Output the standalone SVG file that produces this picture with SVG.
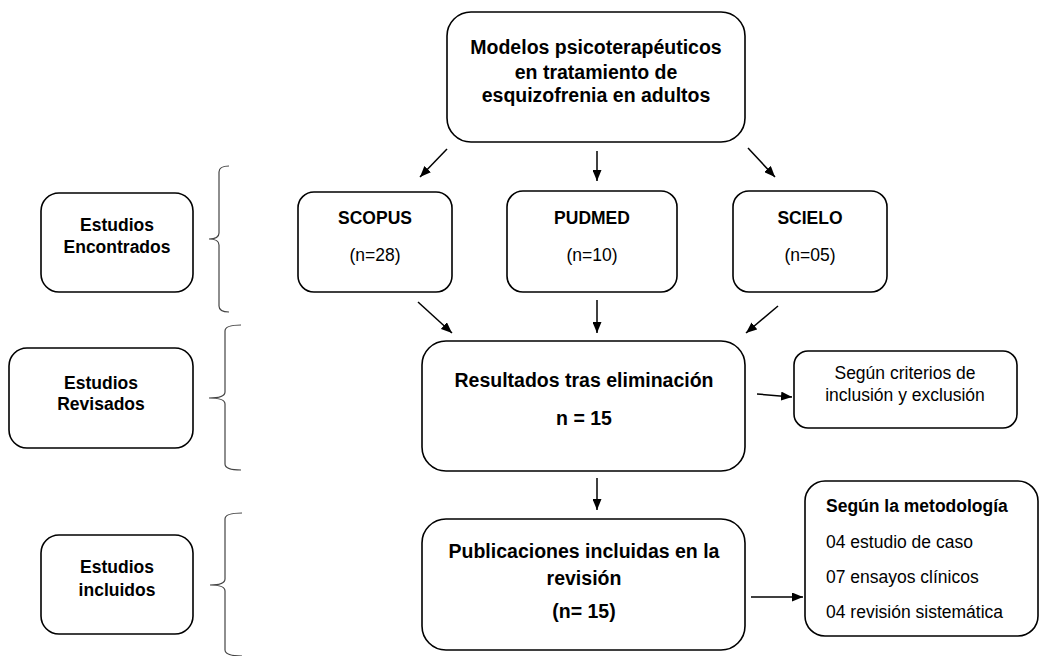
<svg xmlns="http://www.w3.org/2000/svg" width="1045" height="656" viewBox="0 0 1045 656">
<defs>
<marker id="ah" markerUnits="userSpaceOnUse" markerWidth="11" markerHeight="9" refX="11" refY="4.5" orient="auto">
<path d="M0,0 L11,4.5 L0,9 z" fill="#000"/>
</marker>
<style>
.box{fill:#fff;stroke:#000;stroke-width:1.6}
.b{font-family:"Liberation Sans",Arial,sans-serif;font-weight:bold;fill:#000;text-anchor:middle}
.r{font-family:"Liberation Sans",Arial,sans-serif;fill:#000;text-anchor:middle}
.conn{stroke:#000;stroke-width:1.5;fill:none}
.brace{stroke:#444;stroke-width:1.2;fill:none}
</style>
</defs>
<rect width="1045" height="656" fill="#fff"/>

<g id="title">
<rect class="box" x="447" y="12" width="298" height="130" rx="24"/>
<text class="b" font-size="19.5" x="596" y="54">Modelos psicoterapéuticos</text>
<text class="b" font-size="19.5" x="596" y="79">en tratamiento de</text>
<text class="b" font-size="19.5" x="596" y="102">esquizofrenia en adultos</text>
</g>

<g id="estudios-encontrados">
<rect class="box" x="41" y="193" width="152" height="99" rx="18"/>
<text class="b" font-size="17.5" x="117" y="231">Estudios</text>
<text class="b" font-size="17.5" x="117" y="253">Encontrados</text>
</g>

<g id="estudios-revisados">
<rect class="box" x="9" y="348" width="184" height="100" rx="18"/>
<text class="b" font-size="17.5" x="101" y="389">Estudios</text>
<text class="b" font-size="17.5" x="101" y="410">Revisados</text>
</g>

<g id="estudios-incluidos">
<rect class="box" x="41" y="535" width="152" height="99" rx="18"/>
<text class="b" font-size="17.5" x="117" y="573">Estudios</text>
<text class="b" font-size="17.5" x="117" y="596">incluidos</text>
</g>

<g id="scopus">
<rect class="box" x="298" y="192" width="154" height="100" rx="16"/>
<text class="b" font-size="17.5" x="375" y="224">SCOPUS</text>
<text class="r" font-size="17.5" x="375" y="261">(n=28)</text>
</g>

<g id="pudmed">
<rect class="box" x="507" y="191" width="170" height="101" rx="16"/>
<text class="b" font-size="17.5" x="592" y="224">PUDMED</text>
<text class="r" font-size="17.5" x="592" y="261">(n=10)</text>
</g>

<g id="scielo">
<rect class="box" x="733" y="191" width="154" height="101" rx="16"/>
<text class="b" font-size="17.5" x="810" y="224">SCIELO</text>
<text class="r" font-size="17.5" x="810" y="261">(n=05)</text>
</g>

<g id="resultados">
<rect class="box" x="422" y="341" width="323" height="130" rx="24"/>
<text class="b" font-size="19.5" x="584" y="387">Resultados tras eliminación</text>
<text class="b" font-size="19.5" x="584" y="425">n = 15</text>
</g>

<g id="criterios">
<rect class="box" x="794" y="351" width="223" height="77" rx="14"/>
<text class="r" font-size="17.5" x="905" y="379">Según criterios de</text>
<text class="r" font-size="17.5" x="905" y="401">inclusión y exclusión</text>
</g>

<g id="publicaciones">
<rect class="box" x="422" y="519" width="323" height="131" rx="24"/>
<text class="b" font-size="19.5" x="584" y="558">Publicaciones incluidas en la</text>
<text class="b" font-size="19.5" x="584" y="585">revisión</text>
<text class="b" font-size="19.5" x="584" y="618">(n= 15)</text>
</g>

<g id="metodologia">
<rect class="box" x="805" y="481" width="233" height="155" rx="20"/>
<text class="b" font-size="17.5" x="826" y="512" text-anchor="start" style="text-anchor:start">Según la metodología</text>
<text class="r" font-size="17.5" x="826" y="548" style="text-anchor:start">04 estudio de caso</text>
<text class="r" font-size="17.5" x="826" y="583" style="text-anchor:start">07 ensayos clínicos</text>
<text class="r" font-size="17.5" x="826" y="618" style="text-anchor:start">04 revisión sistemática</text>
</g>

<g id="braces">
<path class="brace" d="M229,166 Q219,166 219,172 L219,233 Q219,239 209,239 Q219,239 219,245 L219,306 Q219,312 229,312"/>
<path class="brace" d="M241,325 Q225,325 225,331 L225,392 Q225,398 209,398 Q225,398 225,404 L225,464 Q225,470 241,470"/>
<path class="brace" d="M242,513 Q225,513 225,519 L225,579 Q225,585 210,585 Q225,585 225,591 L225,650 Q225,656 242,656"/>
</g>

<g id="connectors">
<line class="conn" x1="447" y1="149" x2="420" y2="177" marker-end="url(#ah)"/>
<line class="conn" x1="597" y1="151" x2="597" y2="181" marker-end="url(#ah)"/>
<line class="conn" x1="748" y1="148" x2="775" y2="177" marker-end="url(#ah)"/>
<line class="conn" x1="418" y1="302" x2="452" y2="333" marker-end="url(#ah)"/>
<line class="conn" x1="597" y1="300" x2="597" y2="333" marker-end="url(#ah)"/>
<line class="conn" x1="778" y1="306" x2="746" y2="333" marker-end="url(#ah)"/>
<line class="conn" x1="757" y1="394" x2="792" y2="397" marker-end="url(#ah)"/>
<line class="conn" x1="597" y1="478" x2="597" y2="510" marker-end="url(#ah)"/>
<line class="conn" x1="751" y1="597" x2="803" y2="597" marker-end="url(#ah)"/>
</g>
</svg>
